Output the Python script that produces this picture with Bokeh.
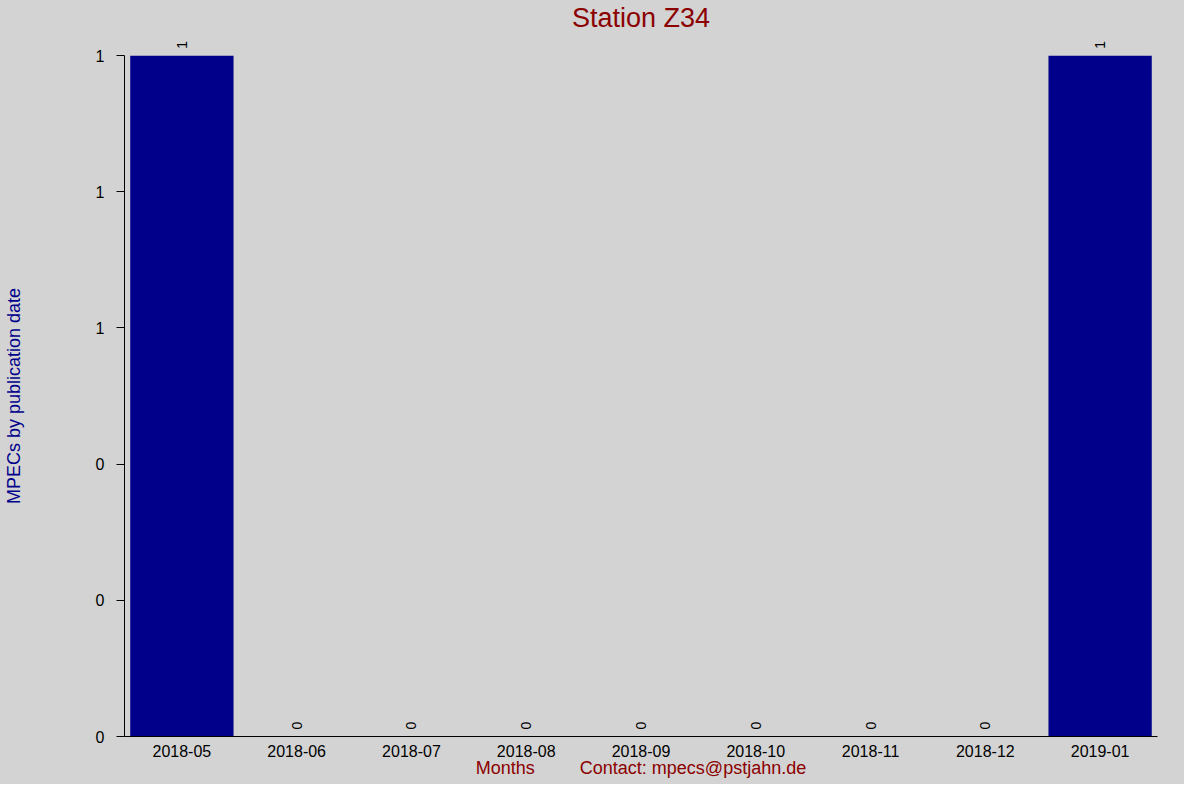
import numpy as np
from bokeh.plotting import figure
from bokeh.models import (Range1d, FactorRange, FixedTicker, PrintfTickFormatter,
                          ColumnDataSource, LabelSet, Label)
from bokeh.core.properties import value
from bokeh.embed import file_html
from bokeh.resources import INLINE

# ---- data ----
months = ["2018-05", "2018-06", "2018-07", "2018-08", "2018-09",
          "2018-10", "2018-11", "2018-12", "2019-01"]
counts = [1, 0, 0, 0, 0, 0, 0, 0, 1]
y_ticks = [0, 0.2, 0.4, 0.6, 0.8, 1.0]
title_text = "Station Z34"
y_label = "MPECs by publication date"
x_label_left = "Months"
x_label_right = "Contact: mpecs@pstjahn.de"

# ---- style ----
BG = "#D3D3D3"
BAR = "#00008B"
RED = "#8B0000"
NAVY = "#00008B"
FONT = "Liberation Sans"

Y_MAX = 1.0                 # top of the value axis
Y_TOP = 1.081               # frame extends above the axis to hold title/labels
TITLE_Y = 1.055

src = ColumnDataSource(dict(month=months, count=counts,
                            label=[str(c) for c in counts]))

p = figure(width=1184, height=784, title=None,
           x_range=FactorRange(factors=months, range_padding=0),
           y_range=Range1d(0, Y_TOP),
           output_backend="svg", toolbar_location=None,
           min_border_left=124, min_border_right=27,
           min_border_top=0, min_border_bottom=48,
           background_fill_color=BG, border_fill_color=BG,
           outline_line_color=None)
p.styles = {"background-color": BG}

p.vbar(x="month", top="count", width=0.9, source=src,
       fill_color=BAR, line_color=None)

labels = LabelSet(x="month", y="count", text="label", source=src,
                  angle=np.pi / 2, text_align="left", text_baseline="middle",
                  y_offset=7, text_font=value(FONT), text_font_size="14px",
                  text_color="black")
p.add_layout(labels)

title = Label(x=len(months) / 2, y=TITLE_Y, text=title_text,
              text_align="center", text_baseline="alphabetic",
              text_font=FONT, text_font_size="27px", text_color=RED)
p.add_layout(title)

p.xgrid.grid_line_color = None
p.ygrid.grid_line_color = None

# x axis
xa = p.xaxis[0]
xa.major_tick_line_color = None
xa.minor_tick_line_color = None
xa.major_label_standoff = 2
xa.major_label_text_font = FONT
xa.major_label_text_font_size = "16px"
xa.major_label_text_color = "black"
xa.axis_line_color = "black"
xa.axis_label = x_label_left + "\u00a0" * 9 + x_label_right
xa.axis_label_text_font = FONT
xa.axis_label_text_font_size = "18px"
xa.axis_label_text_font_style = "normal"
xa.axis_label_text_color = RED
xa.axis_label_standoff = -2

# y axis
ya = p.yaxis[0]
ya.bounds = (0, Y_MAX)
ya.ticker = FixedTicker(ticks=y_ticks)
ya.formatter = PrintfTickFormatter(format="%.0f")
ya.major_tick_out = 8
ya.major_tick_in = 0
ya.major_tick_line_color = "black"
ya.minor_tick_line_color = None
ya.major_label_standoff = 12
ya.major_label_text_font = FONT
ya.major_label_text_font_size = "16px"
ya.major_label_text_color = "black"
ya.axis_line_color = "black"
# trailing no-break spaces centre the label on the axis (0..1), not the frame
ya.axis_label = y_label + "\u00a0" * 11
ya.axis_label_text_font = FONT
ya.axis_label_text_font_size = "18px"
ya.axis_label_text_font_style = "normal"
ya.axis_label_text_color = NAVY
ya.axis_label_standoff = 69

open("out.html", "w").write(file_html(p, INLINE))
